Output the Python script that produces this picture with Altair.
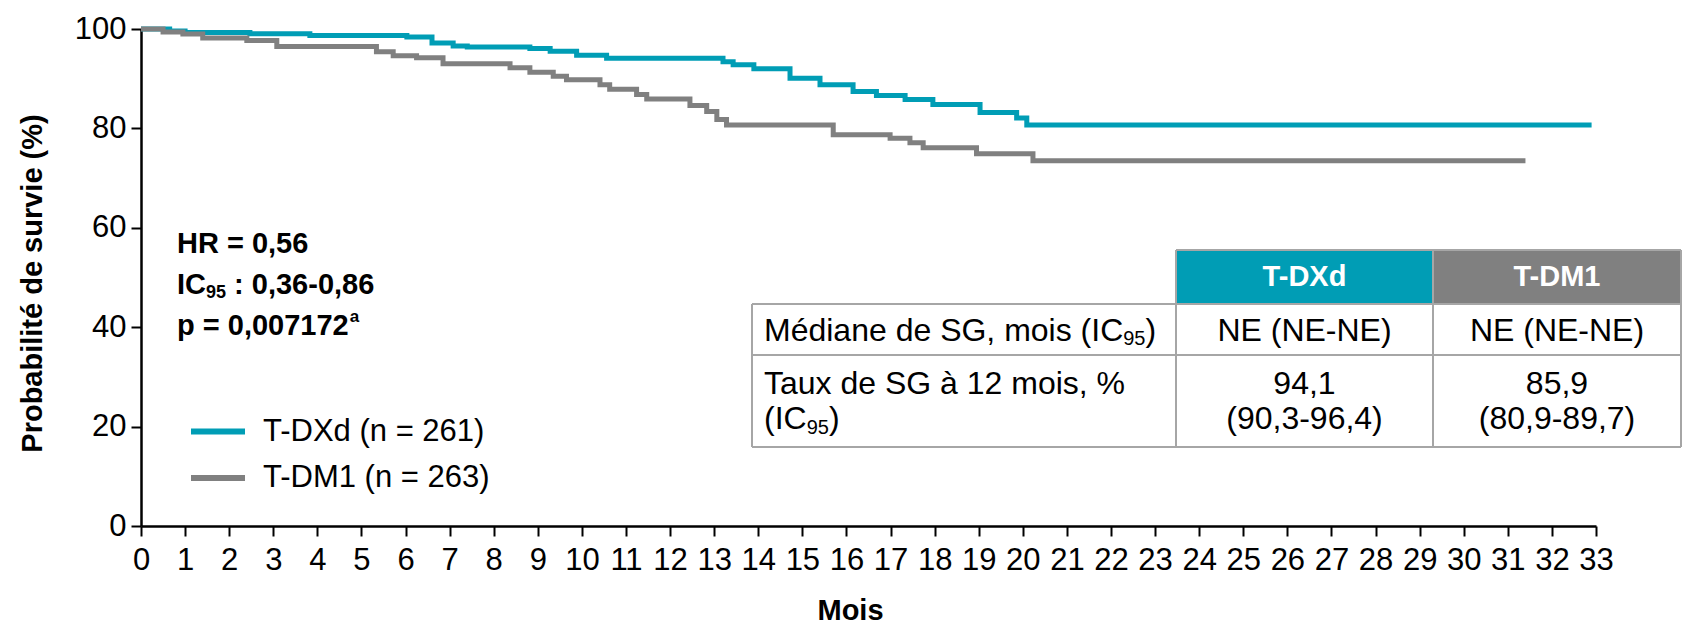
import altair as alt
import pandas as pd

# Kaplan-Meier survival estimates, step start times (months) and survival (%)
tdxd_months = [0, 0.65, 1.0, 2.47, 3.83, 6.03, 6.6, 7.08, 7.4, 8.82, 9.28, 9.88,
               10.56, 13.2, 13.43, 13.9, 14.72, 15.4, 16.15, 16.68, 17.33, 17.96,
               19.03, 19.86, 20.09, 32.9]
tdxd_surv = [100, 99.6, 99.3, 99.05, 98.7, 98.4, 97.2, 96.6, 96.4, 96.1, 95.5, 94.7,
             94.1, 93.4, 92.8, 92.0, 90.1, 88.8, 87.4, 86.6, 85.8, 84.8,
             83.2, 82.1, 80.7, 80.7]

tdm1_months = [0, 0.5, 0.95, 1.4, 2.4, 3.08, 5.34, 5.72, 6.25, 6.85, 8.37, 8.82,
               9.35, 9.65, 10.41, 10.63, 11.24, 11.47, 12.45, 12.83, 13.06, 13.28,
               15.7, 16.99, 17.44, 17.74, 18.95, 20.23, 31.4]
tdm1_surv = [100, 99.4, 99.0, 98.2, 97.7, 96.5, 95.4, 94.6, 94.2, 93.0, 92.2, 91.3,
             90.5, 89.8, 88.8, 87.9, 86.8, 85.9, 84.6, 83.4, 81.8, 80.7,
             78.7, 78.0, 77.1, 76.1, 74.9, 73.5, 73.5]

arms = ["T-DXd", "T-DM1"]
arm_colors = ["#009db5", "#808080"]
legend_labels = ["T-DXd (n = 261)", "T-DM1 (n = 263)"]

x_ticks = list(range(0, 34))
y_ticks = [0, 20, 40, 60, 80, 100]

# statistics block; each line is a list of (text, role) runs
stats_lines = [
    [("HR = 0,56", "main")],
    [("IC", "main"), ("95", "sub"), (" ", "gap"), (": 0,36-0,86", "main")],
    [("p = 0,007172", "main"), ("a", "sup")],
]

table_row1 = [("Médiane de SG, mois (IC", "main"), ("95", "sub"), (")", "main")]
table_row2a = [("Taux de SG à 12 mois, %", "main")]
table_row2b = [("(IC", "main"), ("95", "sub"), (")", "main")]
median_os = ["NE (NE-NE)", "NE (NE-NE)"]
rate_12m = ["94,1", "85,9"]
rate_12m_ci = ["(90,3-96,4)", "(80,9-89,7)"]

FONT = "Liberation Sans"
W, H = 1455, 497

# advance widths (per 1000 em) of Liberation Sans, used to chain text runs
REG = {" ": 278, "(": 333, ")": 333, ",": 278, "-": 333, "%": 889,
       ":": 278, "=": 584, "C": 722, "G": 778, "I": 278, "M": 833, "S": 667,
       "T": 611, "a": 556, "d": 556, "e": 556, "é": 556, "i": 222, "m": 833,
       "n": 556, "o": 556, "s": 500, "u": 556, "x": 500, "à": 556}
BOLD = {" ": 278, "(": 333, ")": 333, ",": 278, "-": 333, ":": 333,
        "=": 584, "C": 722, "H": 722, "I": 278, "R": 722, "p": 611, "a": 556}


def text_width(s, size, bold=False):
    table = BOLD if bold else REG
    return sum(556 if ch.isdigit() else table.get(ch, 556) for ch in s) * size / 1000


km = pd.concat([
    pd.DataFrame({"mois": tdxd_months, "survie": tdxd_surv, "bras": arms[0]}),
    pd.DataFrame({"mois": tdm1_months, "survie": tdm1_surv, "bras": arms[1]}),
])

color_scale = alt.Scale(domain=arms, range=arm_colors)

curves = alt.Chart(km).mark_line(interpolate="step-after", strokeWidth=5).encode(
    x=alt.X("mois:Q", scale=alt.Scale(domain=[0, 33], nice=False),
            axis=alt.Axis(values=x_ticks, title="Mois", titleY=93,
                          titleBaseline="alphabetic", titleX=709,
                          labelOverlap=False, labelFlush=False, labelPadding=9)),
    y=alt.Y("survie:Q", scale=alt.Scale(domain=[0, 100], nice=False),
            axis=alt.Axis(values=y_ticks, title="Probabilité de survie (%)",
                          titleX=-109, titleY=254, titleBaseline="middle",
                          labelPadding=5)),
    color=alt.Color("bras:N", scale=color_scale, legend=None),
    detail="bras:N",
)


def text_layer(txt, x, y, size, bold=False, align="left", color="black", dy=0):
    return alt.Chart(pd.DataFrame({"t": [txt]})).mark_text(
        align=align, baseline="middle", fontSize=size, font=FONT, dy=dy,
        fontWeight="bold" if bold else "normal", color=color,
    ).encode(x=alt.value(x), y=alt.value(y), text="t:N")


def runs_layers(runs, x, y, size, bold=False):
    """Chain text runs left to right, with smaller raised/lowered scripts."""
    out = []
    small = round(size * 0.62)
    for txt, role in runs:
        if role == "main":
            out.append(text_layer(txt, x, y, size, bold=bold))
            x += text_width(txt, size, bold)
        elif role == "gap":
            x += text_width(txt, size, bold)
        elif role == "sub":
            out.append(text_layer(txt, x, y, small, bold=bold, dy=size * 0.28))
            x += text_width(txt, small, bold)
        else:
            sup = round(size * 0.58)
            out.append(text_layer(txt, x + 1, y, sup, bold=bold, dy=-size * 0.3))
            x += text_width(txt, sup, bold) + 1
    return out


def rule_layer(x1, x2, y1, y2, color="#a6a6a6", width=2):
    return alt.Chart(pd.DataFrame({"k": [0]})).mark_rule(
        color=color, strokeWidth=width
    ).encode(x=alt.value(x1), x2=alt.value(x2), y=alt.value(y1), y2=alt.value(y2))


def rect_layer(x1, x2, y1, y2, fill):
    return alt.Chart(pd.DataFrame({"k": [0]})).mark_rect(color=fill).encode(
        x=alt.value(x1), x2=alt.value(x2), y=alt.value(y1), y2=alt.value(y2))


layers = [curves]

# statistics block
for i, runs in enumerate(stats_lines):
    layers += runs_layers(runs, 36, 215 + 41 * i, 29, bold=True)

# legend
for i, (lab, col) in enumerate(zip(legend_labels, arm_colors)):
    yy = 402.5 + 46.5 * i
    layers.append(rule_layer(50, 104, yy, yy, color=col, width=6))
    layers.append(text_layer(lab, 122, yy, 31))

# summary table
cx = [611, 1035, 1292, 1540]
ry = [221, 275, 326, 418]
layers.append(rect_layer(cx[1], cx[2], ry[0], ry[1], arm_colors[0]))
layers.append(rect_layer(cx[2], cx[3], ry[0], ry[1], arm_colors[1]))
for yy in ry[1:]:
    layers.append(rule_layer(cx[0], cx[3], yy, yy))
layers.append(rule_layer(cx[1], cx[3], ry[0], ry[0]))
layers.append(rule_layer(cx[0], cx[0], ry[1], ry[3]))
for xx in cx[1:]:
    layers.append(rule_layer(xx, xx, ry[0], ry[3]))

col_mid = [(cx[1] + cx[2]) / 2, (cx[2] + cx[3]) / 2]
for arm, xm in zip(arms, col_mid):
    layers.append(text_layer(arm, xm, (ry[0] + ry[1]) / 2, 29, bold=True,
                             align="center", color="white"))
row1_y = (ry[1] + ry[2]) / 2 + 1
row2_y = [355, 390]
layers += runs_layers(table_row1, 623, row1_y, 32)
layers += runs_layers(table_row2a, 623, row2_y[0], 32)
layers += runs_layers(table_row2b, 623, row2_y[1], 32)
for xm, med, rate, ci in zip(col_mid, median_os, rate_12m, rate_12m_ci):
    layers.append(text_layer(med, xm, row1_y, 32, align="center"))
    layers.append(text_layer(rate, xm, row2_y[0], 32, align="center"))
    layers.append(text_layer(ci, xm, row2_y[1], 32, align="center"))

chart = alt.layer(*layers).properties(
    width=W, height=H,
    autosize=alt.AutoSizeParams(type="none"),
    padding={"left": 141, "top": 29, "right": 87, "bottom": 101},
).configure_view(stroke=None).configure_axis(
    grid=False,
    domainColor="black", domainWidth=2.5,
    tickColor="black", tickWidth=2, tickSize=10,
    labelFont=FONT, labelFontSize=31, labelColor="black",
    titleFont=FONT, titleFontSize=29, titleFontWeight="bold", titleColor="black",
)

chart.save("out.html", embed_options={"renderer": "svg", "actions": False})
